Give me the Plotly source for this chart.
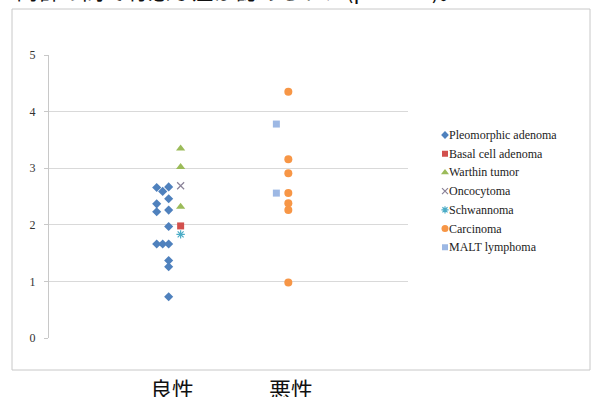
import plotly.graph_objects as go

# Group positions on the x axis (benign = 1, malignant = 2)
group_labels = ["良性", "悪性"]
group_pos = [1, 2]

# Pleomorphic adenoma (benign), three jittered columns
pleo_x = [0.9, 0.9, 0.9, 0.9,
          0.95, 0.95,
          1.0, 1.0, 1.0, 1.0, 1.0, 1.0, 1.0, 1.0]
pleo_y = [2.66, 2.37, 2.23, 1.66,
          2.59, 1.66,
          2.67, 2.46, 2.26, 1.97, 1.66, 1.37, 1.26, 0.73]

basal_x = [1.1]
basal_y = [1.98]

warthin_x = [1.1, 1.1, 1.1]
warthin_y = [3.35, 3.02, 2.32]

onco_x = [1.1]
onco_y = [2.69]

schwann_x = [1.1]
schwann_y = [1.83]

carc_x = [2.0, 2.0, 2.0, 2.0, 2.0, 2.0, 2.0]
carc_y = [4.35, 3.16, 2.91, 2.56, 2.38, 2.26, 0.98]

malt_x = [1.9, 1.9]
malt_y = [3.78, 2.56]

y_ticks = [0, 1, 2, 3, 4, 5]

series_names = ["Pleomorphic adenoma", "Basal cell adenoma", "Warthin tumor",
                "Oncocytoma", "Schwannoma", "Carcinoma", "MALT lymphoma"]
series_x = [pleo_x, basal_x, warthin_x, onco_x, schwann_x, carc_x, malt_x]
series_y = [pleo_y, basal_y, warthin_y, onco_y, schwann_y, carc_y, malt_y]

# Marker styling per series
symbols = ["diamond", "square", "triangle-up", "x-thin-open",
           "asterisk-open", "circle", "square"]
colors = ["#4f81bd", "#d2504d", "#9bbb59", "#8a8298",
          "#4bacc6", "#f79646", "#9db8e4"]
sizes = [7, 7, 8, 7, 7, 8, 7]

W, H = 592, 397
# plot area in pixels
PX0, PX1 = 49, 408
PY_TOP, PY_BOT = 55, 338


def fx(p):
    return p / W


def fy(p):
    return (H - p) / H


def make_marker(sym, col, size):
    m = dict(symbol=sym, color=col, size=size)
    if sym.endswith("-open"):
        m["line"] = dict(color=col, width=1.2)
    else:
        m["line"] = dict(width=0)
    return m


fig = go.Figure()
for name, xs, ys, sym, col, size in zip(series_names, series_x, series_y,
                                        symbols, colors, sizes):
    fig.add_trace(go.Scatter(x=xs, y=ys, mode="markers", name=name,
                             marker=make_marker(sym, col, size),
                             showlegend=False))

# Legend key: one marker per series on its own small axis
legend_idx = list(range(len(series_names)))
for i, sym, col, size in zip(legend_idx, symbols, colors, sizes):
    fig.add_trace(go.Scatter(x=[0], y=[i], mode="markers",
                             marker=make_marker(sym, col, max(size - 1, 6)),
                             xaxis="x2", yaxis="y2", showlegend=False,
                             hoverinfo="skip"))

serif = "Liberation Serif, Times New Roman, serif"
cjk = "Noto Sans CJK JP, sans-serif"

LEG_X = 445
LEG_Y0, LEG_STEP = 135, 18.7
leg_top = LEG_Y0 - LEG_STEP / 2
leg_bot = LEG_Y0 + LEG_STEP * (len(series_names) - 1) + LEG_STEP / 2

fig.update_layout(
    width=W, height=H,
    margin=dict(l=0, r=0, t=0, b=0, pad=0, autoexpand=False),
    paper_bgcolor="white",
    plot_bgcolor="white",
    showlegend=False,
    xaxis=dict(domain=[fx(PX0), fx(PX1)], range=[0, 3], showgrid=False,
               zeroline=False, showticklabels=False, ticks="",
               showline=False, fixedrange=True, automargin=False),
    yaxis=dict(domain=[fy(PY_BOT), fy(PY_TOP)], range=[0, 5],
               tickvals=y_ticks,
               showgrid=True, gridcolor="#d9d9d9", gridwidth=1,
               zeroline=False, showline=True, linecolor="#c8c8c8",
               linewidth=1, ticks="outside", ticklen=4,
               tickcolor="#c8c8c8",
               tickfont=dict(family=serif, size=12, color="#333333"),
               ticklabelstandoff=6, fixedrange=True, automargin=False),
    xaxis2=dict(domain=[fx(LEG_X - 10), fx(LEG_X + 10)], range=[-1, 1],
                visible=False, fixedrange=True, anchor="y2",
                automargin=False),
    yaxis2=dict(domain=[fy(leg_bot), fy(leg_top)],
                range=[len(series_names) - 0.5, -0.5],
                visible=False, fixedrange=True, anchor="x2",
                automargin=False),
)

# Legend texts
for i, name in zip(legend_idx, series_names):
    fig.add_annotation(x=0, y=i, xref="x2", yref="y2", text=name,
                       showarrow=False, xanchor="left", yanchor="middle",
                       xshift=2,
                       font=dict(family=serif, size=12, color="#222222"))

# Outer frame of the chart
fig.add_shape(type="rect", xref="paper", yref="paper",
              x0=fx(12), x1=fx(590), y0=fy(370), y1=fy(9),
              line=dict(color="#c8c8c8", width=1), fillcolor="rgba(0,0,0,0)",
              layer="below")

# Group labels beneath the frame
for lab, pos in zip(group_labels, group_pos):
    fig.add_annotation(x=pos, y=fy(370), xref="x", yref="paper",
                       text=lab, showarrow=False, xanchor="center",
                       yanchor="top", xshift=3,
                       font=dict(family=cjk, size=22, color="#111111"))

# Sentence running above the chart
fig.add_annotation(x=fx(14), y=fy(7), xref="paper", yref="paper",
                   text="両群の間で有意な差が認められた(p＜0.05)。",
                   showarrow=False, xanchor="left", yanchor="bottom",
                   font=dict(family=cjk, size=22, color="#111111"))

fig.write_html("out.html")
